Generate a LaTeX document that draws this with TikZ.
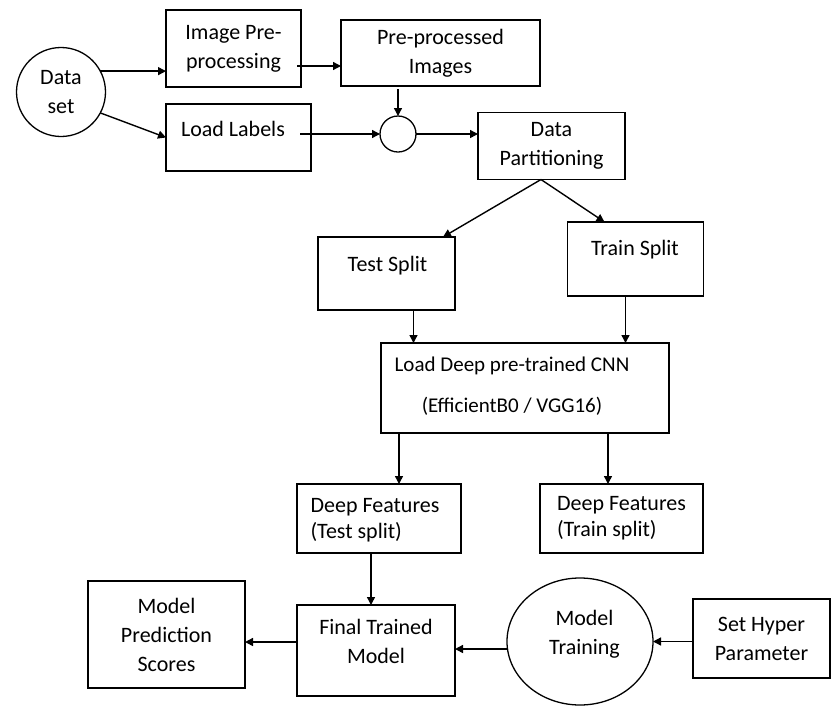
\documentclass[tikz,border=0pt]{standalone}
\usepackage{fontspec}
\setmainfont{Carlito}
\usetikzlibrary{arrows.meta,shapes.geometric}

\tikzset{
  box/.style={draw, line width=1.3pt, inner sep=0pt, outer sep=0pt, align=center, font=\fontsize{22}{29}\selectfont},
  txt/.style={align=center, inner sep=0pt, font=\fontsize{22}{29}\selectfont},
  arr/.style={line width=1.4pt, -{Triangle[length=8pt,width=8pt]}}
}

\begin{document}
\begin{tikzpicture}[x=1pt,y=-1pt]
  \useasboundingbox (0,0) rectangle (839,713);

  % input and preprocessing
  \node[box, circle, minimum size=89] (data) at (61,92) {Data\\set};
  \node[box, minimum width=135, minimum height=77] (ipp) at (233.5,48.5) {Image Pre-\\processing};
  \node[box, minimum width=199, minimum height=66] (ppi) at (440.5,53) {Pre-processed\\Images};
  \node[box, minimum width=145, minimum height=67] (lbl) at (238.5,137.5) {};
  \node[txt] (lbl-t) at (233,129) {Load Labels};
  \node[box, circle, minimum size=36] (join) at (398,134) {};
  \node[box, minimum width=147, minimum height=67] (dp) at (551.5,146) {Data\\Partitioning};

  % splits and feature extraction
  \node[box, minimum width=137, minimum height=73] (test) at (386.5,273.5) {};
  \node[txt] (test-t) at (387.5,266) {Test Split};
  \node[box, minimum width=136, minimum height=74] (train) at (635.5,259) {};
  \node[txt] (train-t) at (635,250) {Train Split};
  \node[box, minimum width=288, minimum height=90] (cnn) at (525,388) {};
  \node[txt, font=\fontsize{21}{29}\selectfont] (cnn-t) at (512,386.5) {Load Deep pre-trained CNN\\[12pt](EfficientB0 / VGG16)};
  \node[box, minimum width=164, minimum height=69] (dfte) at (379,518.5) {};
  \node[txt, align=left] (dfte-t) at (375,520) {Deep Features\\[-3pt](Test split)};
  \node[box, minimum width=163, minimum height=69, align=left] (dftr) at (621.5,518.5) {Deep Features\\[-3pt](Train split)};

  % training and output
  \node[box, minimum width=158, minimum height=91] (ftm) at (376,650.5) {};
  \node[txt] (ftm-t) at (376,641) {Final Trained\\Model};
  \node[box, minimum width=157, minimum height=107] (mps) at (166.5,634.5) {Model\\Prediction\\Scores};
  \node[box, ellipse, minimum width=146, minimum height=127] (mt) at (580,641.5) {};
  \node[txt] (mt-t) at (584.5,634.5) {Model\\Training};
  \node[box, minimum width=137, minimum height=79] (shp) at (761.5,638.5) {Set Hyper\\Parameter};

  % connectors
  \draw[arr] (data.28) -- (data.28 -| ipp.west);
  \draw[arr] (data.-28) -- (lbl.west);
  \draw[arr] ([xshift=-4]ipp.east |- 0,66) -- (ppi.west |- 0,66);
  \draw[arr] ([yshift=-3]ppi.south -| join) -- (join.north);
  \draw[arr] ([xshift=-11]lbl.east |- join) -- (join.west);
  \draw[arr] (join.east) -- (join.east -| dp.west);
  \draw[arr] ([xshift=-10.5]dp.south) -- ([xshift=56.5]test.north);
  \draw[arr] ([xshift=-10.5]dp.south) -- ([xshift=-31]train.north);
  \draw[arr] ([xshift=27]test.south) -- ([xshift=27]test.south |- cnn.north);
  \draw[arr] ([xshift=-10]train.south) -- ([xshift=-10]train.south |- cnn.north);
  \draw[arr] ([xshift=-126]cnn.south) -- ([xshift=-126]cnn.south |- dfte.north);
  \draw[arr] ([xshift=83]cnn.south) -- ([xshift=83]cnn.south |- dftr.north);
  \draw[arr] ([xshift=-8]dfte.south) -- ([xshift=-8]dfte.south |- ftm.north);
  \draw[arr] ([yshift=8.5]ftm.west) -- ([yshift=8.5]ftm.west -| mps.east);
  \draw[arr] ([yshift=-7.5]mt.west) -- ([yshift=-7.5]mt.west -| ftm.east);
  \draw[arr] (shp.west |- mt.east) -- (mt.east);
\end{tikzpicture}
\end{document}
